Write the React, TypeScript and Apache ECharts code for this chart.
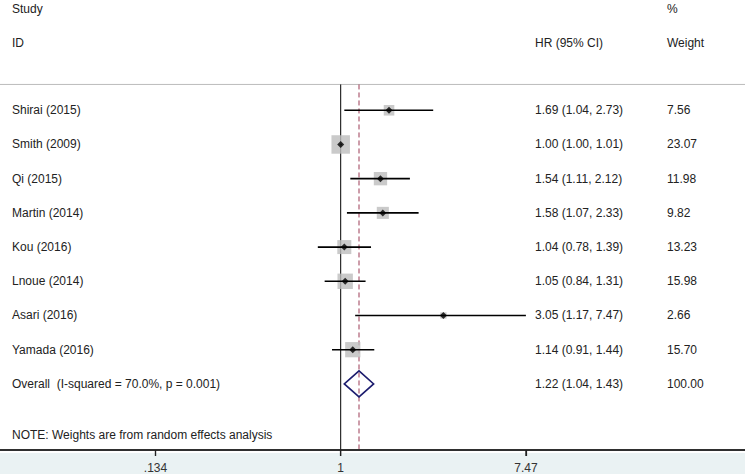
import React, { useEffect, useRef } from 'react';
import * as echarts from 'echarts';

const studies = ['Shirai (2015)', 'Smith (2009)', 'Qi (2015)', 'Martin (2014)', 'Kou (2016)', 'Lnoue (2014)', 'Asari (2016)', 'Yamada (2016)'];
const hr = [1.69, 1.0, 1.54, 1.58, 1.04, 1.05, 3.05, 1.14];
const lower = [1.04, 1.0, 1.11, 1.07, 0.78, 0.84, 1.17, 0.91];
const upper = [2.73, 1.01, 2.12, 2.33, 1.39, 1.31, 7.47, 1.44];
const weights = [7.56, 23.07, 11.98, 9.82, 13.23, 15.98, 2.66, 15.7];

const overallLabel = 'Overall  (I-squared = 70.0%, p = 0.001)';
const overallHr = 1.22;
const overallLower = 1.04;
const overallUpper = 1.43;
const overallWeight = 100.0;

const tickValues = [1 / 7.47, 1, 7.47];
const noteText = 'NOTE: Weights are from random effects analysis';
const headerTop = ['Study', '%'];
const headerBottom = ['ID', 'HR (95% CI)', 'Weight'];

const FONT = '"Liberation Sans", Arial, sans-serif';
const FS = 12;
const COL_STUDY = 12;
const COL_HR = 535;
const COL_W = 667;

const ROW_OVERALL = studies.length;
const ROW_NOTE = studies.length + 1.5;
const ROW_TOP_LINE = -0.755;
const Y_MIN = -3.224;
const Y_MAX = 9.933;

const fmtCI = (h: number, l: number, u: number) => `${h.toFixed(2)} (${l.toFixed(2)}, ${u.toFixed(2)})`;

type TextItem = { x: number; row: number; text: string };
const textItems: TextItem[] = [];
textItems.push({ x: COL_STUDY, row: -2.96, text: headerTop[0] });
textItems.push({ x: COL_W, row: -2.96, text: headerTop[1] });
textItems.push({ x: COL_STUDY, row: -1.97, text: headerBottom[0] });
textItems.push({ x: COL_HR, row: -1.97, text: headerBottom[1] });
textItems.push({ x: COL_W, row: -1.97, text: headerBottom[2] });
studies.forEach((s, i) => {
  textItems.push({ x: COL_STUDY, row: i, text: s });
  textItems.push({ x: COL_HR, row: i, text: fmtCI(hr[i], lower[i], upper[i]) });
  textItems.push({ x: COL_W, row: i, text: weights[i].toFixed(2) });
});
textItems.push({ x: COL_STUDY, row: ROW_OVERALL, text: overallLabel });
textItems.push({ x: COL_HR, row: ROW_OVERALL, text: fmtCI(overallHr, overallLower, overallUpper) });
textItems.push({ x: COL_W, row: ROW_OVERALL, text: overallWeight.toFixed(2) });
textItems.push({ x: COL_STUDY, row: ROW_NOTE, text: noteText });

const fmtTick = (v: number) => {
  const s = String(+(+v).toPrecision(3));
  return s.replace(/^0\./, '.');
};

const AXIS_COLOR = '#222222';

export default function App() {
  const ref = useRef<HTMLDivElement>(null);
  useEffect(() => {
    const chart = echarts.init(ref.current!, null, { renderer: 'svg' });
    const option: any = {
      animation: false,
      backgroundColor: 'transparent',
      grid: { left: 0, right: 0, top: 0, bottom: 21, containLabel: false },
      xAxis: [
        {
          type: 'log',
          logBase: 10,
          min: 0.02474,
          max: 80.63,
          position: 'bottom',
          axisLine: { show: true, onZero: false, lineStyle: { color: AXIS_COLOR, width: 1.5 } },
          axisTick: { show: true, length: 6, customValues: tickValues, lineStyle: { color: AXIS_COLOR, width: 1.2 } },
          axisLabel: {
            show: true,
            customValues: tickValues,
            margin: 12,
            color: '#333',
            fontSize: FS,
            fontFamily: FONT,
            formatter: (v: number) => fmtTick(v),
          },
          splitLine: { show: false },
        },
        {
          type: 'value',
          min: 0,
          max: 745,
          show: false,
          axisLine: { onZero: false },
        },
      ],
      yAxis: { type: 'value', inverse: true, min: Y_MIN, max: Y_MAX, show: false, axisLine: { onZero: false } },
      series: [
        {
          type: 'line',
          xAxisIndex: 1,
          data: [[0, ROW_TOP_LINE], [745, ROW_TOP_LINE]],
          symbol: 'none',
          lineStyle: { color: '#bbbbbb', width: 1 },
          silent: true,
          z: 1,
        },
        {
          type: 'line',
          xAxisIndex: 0,
          data: [[1, ROW_TOP_LINE], [1, Y_MAX]],
          symbol: 'none',
          lineStyle: { color: '#000', width: 1 },
          silent: true,
          clip: false,
          z: 1,
        },
        {
          type: 'line',
          xAxisIndex: 0,
          data: [[overallHr, ROW_TOP_LINE], [overallHr, Y_MAX]],
          symbol: 'none',
          lineStyle: { color: '#9b3a55', width: 1, type: [5, 3] },
          silent: true,
          clip: false,
          z: 1,
        },
        {
          type: 'custom',
          xAxisIndex: 1,
          data: [[0, 745, Y_MAX]],
          clip: false,
          renderItem: (params: any, api: any) => {
            const p1 = api.coord([api.value(0), api.value(2)]);
            const p2 = api.coord([api.value(1), api.value(2)]);
            return {
              type: 'line',
              shape: { x1: p1[0], y1: p1[1], x2: p2[0], y2: p2[1] },
              style: { stroke: AXIS_COLOR, lineWidth: 1.5 },
            };
          },
          silent: true,
          z: 6,
        },
        {
          type: 'custom',
          xAxisIndex: 0,
          data: tickValues.map((v) => [v, Y_MAX]),
          clip: false,
          renderItem: (params: any, api: any) => {
            const p = api.coord([api.value(0), api.value(1)]);
            return {
              type: 'line',
              shape: { x1: p[0], y1: p[1], x2: p[0], y2: p[1] + 6 },
              style: { stroke: AXIS_COLOR, lineWidth: 1.2 },
            };
          },
          silent: true,
          z: 6,
        },
        {
          type: 'scatter',
          xAxisIndex: 0,
          data: hr.map((h, i) => [h, i, weights[i]]),
          symbol: 'rect',
          symbolSize: (val: number[]) => 3.85 * Math.sqrt(val[2]),
          itemStyle: { color: '#bdbdbd' },
          silent: true,
          z: 2,
        },
        {
          type: 'custom',
          xAxisIndex: 0,
          data: hr.map((h, i) => [lower[i], upper[i], i]),
          renderItem: (params: any, api: any) => {
            const p1 = api.coord([api.value(0), api.value(2)]);
            const p2 = api.coord([api.value(1), api.value(2)]);
            return {
              type: 'line',
              shape: { x1: p1[0], y1: p1[1], x2: p2[0], y2: p2[1] },
              style: { stroke: '#000', lineWidth: 1.6 },
            };
          },
          silent: true,
          z: 3,
        },
        {
          type: 'scatter',
          xAxisIndex: 0,
          data: hr.map((h, i) => [h, i]),
          symbol: 'diamond',
          symbolSize: 7,
          itemStyle: { color: '#000' },
          silent: true,
          z: 4,
        },
        {
          type: 'custom',
          xAxisIndex: 0,
          data: [[overallLower, overallHr, overallUpper, ROW_OVERALL]],
          renderItem: (params: any, api: any) => {
            const r = api.value(3);
            const half = 0.38;
            const pl = api.coord([api.value(0), r]);
            const pt = api.coord([api.value(1), r - half]);
            const pr = api.coord([api.value(2), r]);
            const pb = api.coord([api.value(1), r + half]);
            return {
              type: 'polygon',
              shape: { points: [pl, pt, pr, pb] },
              style: { fill: 'none', stroke: '#1c1c6e', lineWidth: 1.6 },
            };
          },
          silent: true,
          z: 4,
        },
        {
          type: 'custom',
          xAxisIndex: 1,
          data: textItems.map((t) => [t.x, t.row]),
          renderItem: (params: any, api: any) => {
            const item = textItems[params.dataIndex];
            const p = api.coord([api.value(0), api.value(1)]);
            return {
              type: 'text',
              x: p[0],
              y: p[1],
              style: {
                text: item.text,
                fill: '#222',
                fontSize: FS,
                fontFamily: FONT,
                align: 'left',
                verticalAlign: 'middle',
              },
            };
          },
          silent: true,
          z: 5,
        },
      ],
    };
    chart.setOption(option);
    return () => chart.dispose();
  }, []);
  return (
    <div
      ref={ref}
      style={{
        position: 'fixed',
        left: 0,
        top: 0,
        width: 745,
        height: 474,
        background: 'linear-gradient(to bottom, #ffffff 0px, #ffffff 453px, #eaf2f3 453px, #eaf2f3 474px)',
      }}
    />
  );
}
